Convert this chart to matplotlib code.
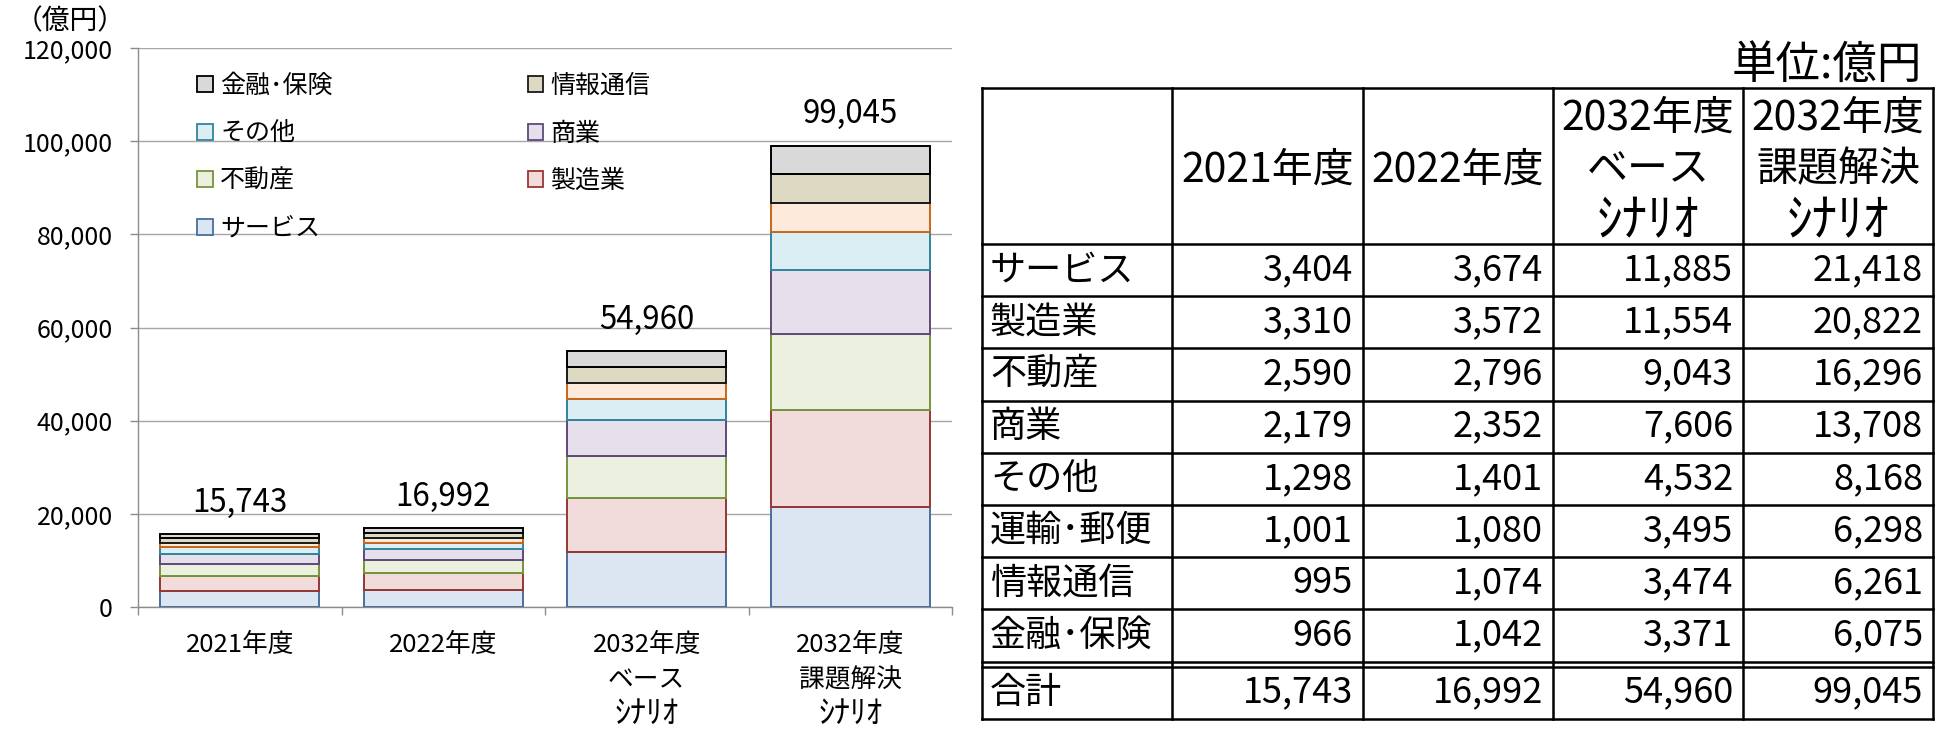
import matplotlib
matplotlib.use('Agg')
import matplotlib.pyplot as plt
from matplotlib.patches import Patch
from matplotlib.ticker import FixedLocator, FuncFormatter
from matplotlib.transforms import offset_copy
import numpy as np

plt.rcParams['font.family'] = ['Noto Sans CJK JP', 'DejaVu Sans']

# ---------------- data ----------------
categories = ['2021年度', '2022年度', '2032年度\nベース\nｼﾅﾘｵ', '2032年度\n課題解決\nｼﾅﾘｵ']
table_headers = ['2021年度', '2022年度', '2032年度\nベース\nｼﾅﾘｵ', '2032年度\n課題解決\nｼﾅﾘｵ']
sectors = ['サービス', '製造業', '不動産', '商業', 'その他', '運輸･郵便', '情報通信', '金融･保険']
service = [3404, 3674, 11885, 21418]
manufacturing = [3310, 3572, 11554, 20822]
real_estate = [2590, 2796, 9043, 16296]
commerce = [2179, 2352, 7606, 13708]
other = [1298, 1401, 4532, 8168]
transport = [1001, 1080, 3495, 6298]
ict = [995, 1074, 3474, 6261]
finance = [966, 1042, 3371, 6075]
totals = [15743, 16992, 54960, 99045]
total_label = '合計'
yticks = [0, 20000, 40000, 60000, 80000, 100000, 120000]
unit_chart = '（億円）'
unit_table = '単位:億円'
legend_order = ['金融･保険', 'その他', '不動産', 'サービス', '情報通信', '商業', '製造業']

series = [service, manufacturing, real_estate, commerce, other, transport, ict, finance]

# ---------------- styles ----------------
fills = ['#DCE6F2', '#F2DCDB', '#EBF1DE', '#E6E0EC', '#DBEEF4', '#FDEADA', '#DDD9C3', '#D9D9D9']
edges = ['#4A6E9C', '#953735', '#77933C', '#5F497A', '#31859C', '#C8661A', '#1A1A1A', '#000000']


def is_halfwidth_kana(s):
    return len(s) > 0 and all(0xFF61 <= ord(c) <= 0xFF9F for c in s)


W, H = 1950, 750
fig = plt.figure(figsize=(W / 100, H / 100), dpi=100)

# ---------------- chart ----------------
L, R, T, B = 138, 952, 48, 607
ax = fig.add_axes([L / W, 1 - B / H, (R - L) / W, (B - T) / H])
x = np.arange(len(categories))
bottom = np.zeros(len(categories))
for name, vals, fc, ec in zip(sectors, series, fills, edges):
    ax.bar(x, vals, width=0.78, bottom=bottom, color=fc, edgecolor=ec,
           linewidth=1.4, zorder=3)
    bottom = bottom + np.array(vals)

for xi, t in zip(x, totals):
    ax.annotate(f'{t:,}', (xi, t), xytext=(0, 16), textcoords='offset points',
                ha='center', va='baseline', fontsize=22.5)

ax.set_xlim(-0.5, len(categories) - 0.5)
ax.set_ylim(yticks[0], yticks[-1])
ax.yaxis.set_major_locator(FixedLocator(yticks))
ax.yaxis.set_major_formatter(FuncFormatter(lambda v, p: f'{int(v):,}'))
ax.grid(axis='y', color='#A6A6A6', linewidth=1.0, zorder=0)
ax.set_axisbelow(True)
for s in ['top', 'right']:
    ax.spines[s].set_visible(False)
for s in ['left', 'bottom']:
    ax.spines[s].set_color('#8C8C8C')
    ax.spines[s].set_linewidth(1.0)
ax.tick_params(axis='y', length=6, width=1.0, color='#8C8C8C', pad=12, labelsize=18)
ax.set_xticks(x)
ax.set_xticklabels([])
ax.set_xticks(np.arange(-0.5, len(categories)), minor=True)
ax.tick_params(axis='x', which='major', length=0)
ax.tick_params(axis='x', which='minor', length=6, width=1.0, color='#8C8C8C')

# category labels, line by line
xt_fs = 18.5
xt_offsets = [38, 73, 107]
for xi, cat in zip(x, categories):
    for k, ln in enumerate(cat.split('\n')):
        tr = offset_copy(ax.get_xaxis_transform(), fig=fig, x=0, y=-xt_offsets[k], units='dots')
        fs = xt_fs * 1.25 if is_halfwidth_kana(ln) else xt_fs
        ax.text(xi, 0, ln, transform=tr, ha='center', va='center', fontsize=fs)

fig.text(70 / W, 1 - 21 / H, unit_chart, ha='center', va='center', fontsize=20)

leg_handles = [Patch(facecolor=fills[sectors.index(n)], edgecolor=edges[sectors.index(n)],
                     linewidth=1.3) for n in legend_order]
ax.legend(leg_handles, legend_order, ncol=2, loc='upper left',
          bbox_to_anchor=((197 - L) / (R - L), (B - 73) / (B - T)),
          frameon=False, fontsize=18, handlelength=0.62, handleheight=0.62,
          handletextpad=0.3, columnspacing=7.8, labelspacing=0.86,
          borderaxespad=0, borderpad=0)

# ---------------- table ----------------
tax = fig.add_axes([0, 0, 1, 1])
tax.set_xlim(0, W)
tax.set_ylim(H, 0)
tax.set_axis_off()
tax.patch.set_alpha(0)

col_x = [982, 1172, 1363, 1553, 1743, 1933]
top = 88
hdr_bot = 244
row_h = 52.2
n_rows = len(sectors)
row_tops = [hdr_bot + i * row_h for i in range(n_rows + 1)]
dbl_gap = 5
tot_top = row_tops[-1] + dbl_gap
tot_bot = tot_top + row_h
lw = 1.8

tax.plot([col_x[0], col_x[-1]], [top, top], color='black', lw=lw)
tax.plot([col_x[0], col_x[-1]], [hdr_bot, hdr_bot], color='black', lw=lw)
for yy in row_tops[1:]:
    tax.plot([col_x[0], col_x[-1]], [yy, yy], color='black', lw=lw)
tax.plot([col_x[0], col_x[-1]], [tot_top, tot_top], color='black', lw=lw)
tax.plot([col_x[0], col_x[-1]], [tot_bot, tot_bot], color='black', lw=lw)
for xx in col_x:
    tax.plot([xx, xx], [top, tot_bot], color='black', lw=lw)

tax.text(1922, 65, unit_table, ha='right', va='center', fontsize=32)

hdr_fs = 29.5
for j, h in enumerate(table_headers):
    lines = h.split('\n')
    cx = (col_x[j + 1] + col_x[j + 2]) / 2
    n = len(lines)
    for k, ln in enumerate(lines):
        cy = 170 + (k - (n - 1) / 2) * 52 if n > 1 else 170
        fs = hdr_fs * 1.25 if is_halfwidth_kana(ln) else hdr_fs
        tax.text(cx, cy, ln, ha='center', va='center', fontsize=fs)

body_fs = 26
for i, (name, vals) in enumerate(zip(sectors, series)):
    cy = (row_tops[i] + row_tops[i + 1]) / 2
    tax.text(col_x[0] + 8, cy, name, ha='left', va='center', fontsize=body_fs)
    for j, v in enumerate(vals):
        tax.text(col_x[j + 2] - 10, cy, f'{v:,}', ha='right', va='center', fontsize=body_fs)

cy = (tot_top + tot_bot) / 2
tax.text(col_x[0] + 8, cy, total_label, ha='left', va='center', fontsize=body_fs)
for j, v in enumerate(totals):
    tax.text(col_x[j + 2] - 10, cy, f'{v:,}', ha='right', va='center', fontsize=body_fs)

fig.savefig('out.png', dpi=100)
